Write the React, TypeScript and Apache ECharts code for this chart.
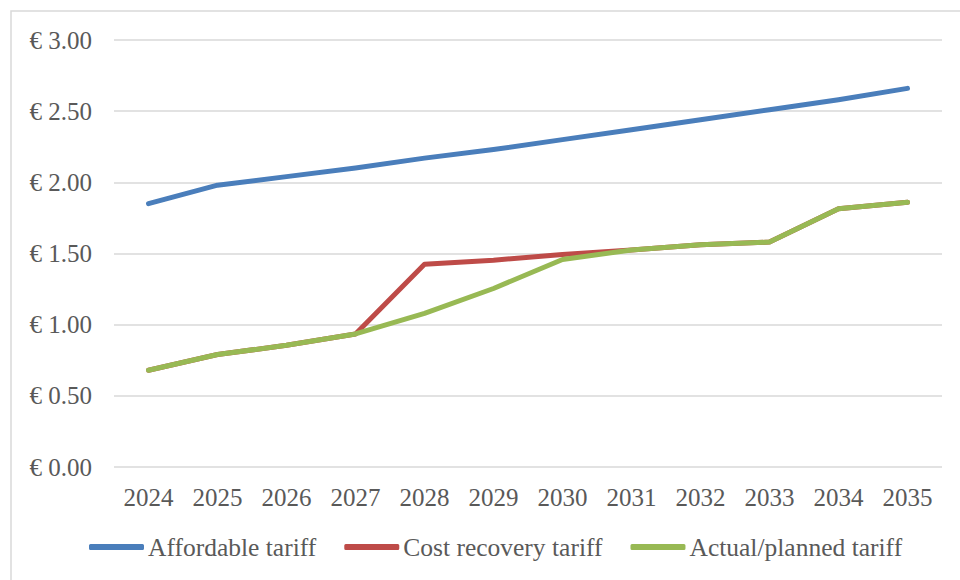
import React, { useEffect, useRef } from "react";
import * as echarts from "echarts";

const years = ["2024", "2025", "2026", "2027", "2028", "2029", "2030", "2031", "2032", "2033", "2034", "2035"];
const affordable = [1.85, 1.98, 2.04, 2.1, 2.17, 2.23, 2.3, 2.37, 2.44, 2.51, 2.58, 2.66];
const costRecovery = [0.68, 0.79, 0.855, 0.935, 1.425, 1.453, 1.493, 1.525, 1.562, 1.58, 1.815, 1.86];
const actualPlanned = [0.68, 0.79, 0.855, 0.935, 1.079, 1.254, 1.458, 1.525, 1.562, 1.58, 1.815, 1.86];
const seriesNames = ["Affordable tariff", "Cost recovery tariff", "Actual/planned tariff"];
const colors = ["#4a7ebb", "#be4b48", "#98b954"];

const FONT = "'Liberation Serif', 'Times New Roman', serif";
const TEXT = "#595959";

export default function App() {
  const ref = useRef<HTMLDivElement>(null);
  useEffect(() => {
    if (!ref.current) return;
    const chart = echarts.init(ref.current, null, { renderer: "svg" });
    const data = [affordable, costRecovery, actualPlanned];
    chart.setOption({
      animation: false,
      backgroundColor: "#ffffff",
      graphic: [
        {
          type: "rect",
          shape: { x: 11, y: 11, width: 1000, height: 700 },
          style: { fill: "none", stroke: "#d9d9d9", lineWidth: 1.5 },
          silent: true,
          z: -10,
        },
      ],
      grid: { left: 114, right: 18, top: 40, bottom: 113, containLabel: false },
      legend: {
        bottom: 15,
        left: 84,
        icon: "roundRect",
        itemWidth: 55,
        itemHeight: 6,
        itemGap: 28,
        textStyle: { fontFamily: FONT, fontSize: 25.5, color: TEXT, lineHeight: 26, padding: [0, 0, 0, -1] },
        data: seriesNames,
      },
      xAxis: {
        type: "category",
        data: years,
        boundaryGap: true,
        axisLine: { show: false },
        axisTick: { show: false },
        axisLabel: { fontFamily: FONT, fontSize: 25, color: TEXT, margin: 18 },
      },
      yAxis: {
        type: "value",
        min: 0,
        max: 3,
        interval: 0.5,
        axisLine: { show: false },
        axisTick: { show: false },
        splitLine: { lineStyle: { color: "#d9d9d9", width: 1.5 } },
        axisLabel: {
          fontFamily: FONT,
          fontSize: 25,
          color: TEXT,
          margin: 22,
          formatter: (v: number) => "€ " + v.toFixed(2),
        },
      },
      series: data.map((d, i) => ({
        name: seriesNames[i],
        type: "line",
        data: d,
        symbol: "none",
        color: colors[i],
        lineStyle: { width: 5, color: colors[i], cap: "round", join: "round" },
        z: 2 + i,
      })),
    });
    return () => chart.dispose();
  }, []);
  return (
    <div
      ref={ref}
      style={{ position: "fixed", left: 0, top: 0, width: 960, height: 580 }}
    />
  );
}
